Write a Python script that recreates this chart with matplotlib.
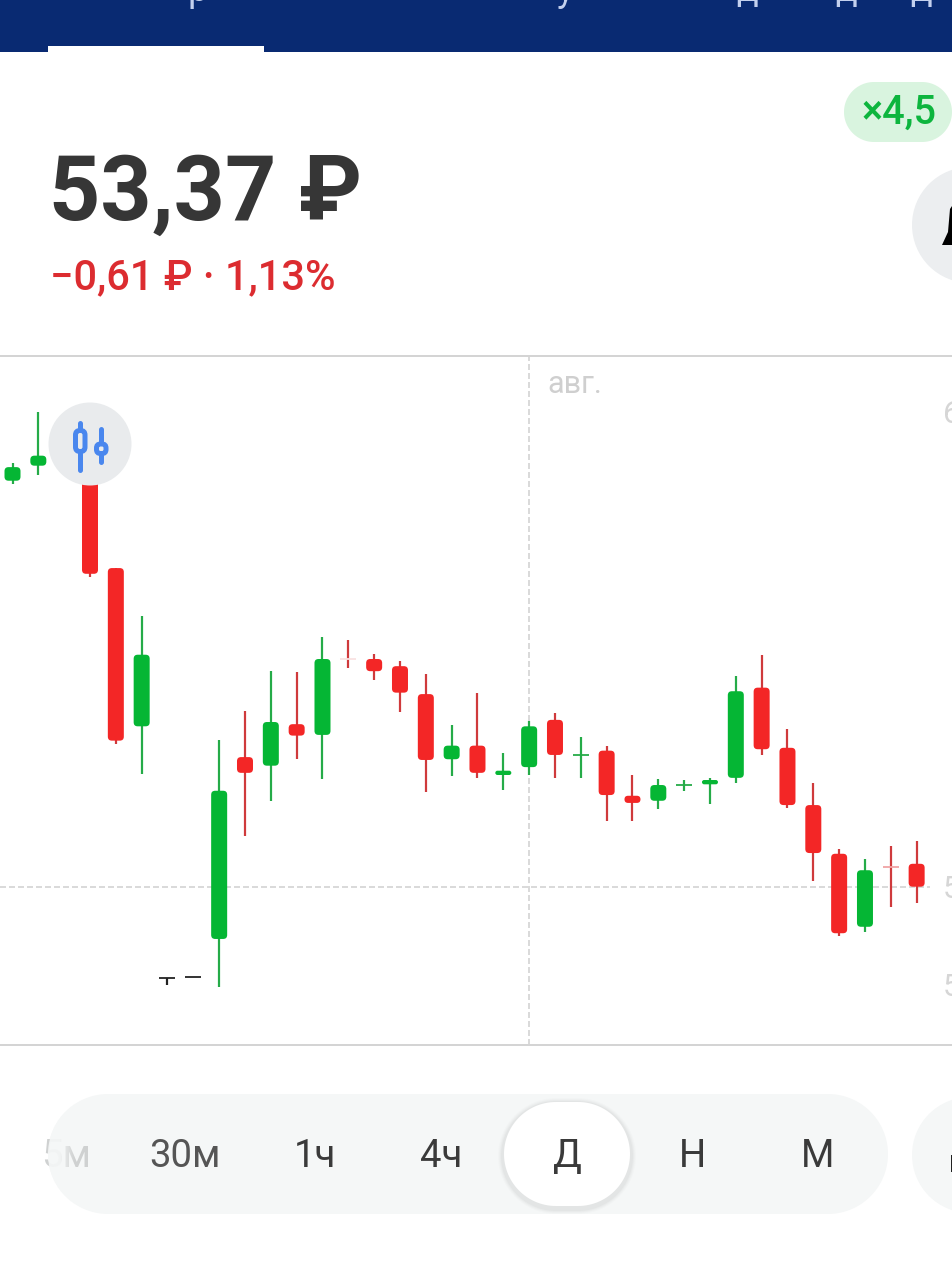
import numpy as np
import matplotlib
matplotlib.use("Agg")
import matplotlib.pyplot as plt
from matplotlib.patches import FancyBboxPatch, Circle, Rectangle, Polygon

plt.rcParams['font.family'] = ['Roboto', 'DejaVu Sans']

# ---- data -----------------------------------------------------------------
session = [0, 1, 3, 4, 5, 6, 7, 8, 9, 10, 11, 12, 13, 14, 15, 16, 17, 18, 19, 20, 21, 22, 23, 24, 25, 26, 27, 28, 29, 30, 31, 32, 33, 34, 35]
opens = [59.04, 59.25, 59.61, 57.82, 55.61, 52.10, 52.11, 52.64, 55.18, 55.06, 55.64, 55.49, 56.55, 56.55, 56.45, 56.06, 55.15, 55.34, 54.93, 55.04, 55.70, 55.21, 55.27, 54.64, 54.57, 54.79, 54.80, 54.89, 56.15, 55.31, 54.51, 53.83, 52.81, 53.65, 53.69]
highs = [59.29, 60.00, 59.75, 57.82, 57.15, 52.10, 52.11, 55.42, 55.82, 56.38, 56.37, 56.86, 56.82, 56.62, 56.52, 56.34, 55.63, 56.08, 55.24, 55.68, 55.80, 55.46, 55.34, 54.93, 54.87, 54.86, 54.89, 56.31, 56.61, 55.57, 54.82, 53.90, 53.76, 53.94, 54.01]
lows = [58.99, 59.12, 57.70, 55.36, 54.94, 52.00, 52.11, 51.97, 54.08, 54.57, 55.15, 54.87, 56.43, 56.26, 55.81, 54.69, 54.92, 54.89, 54.72, 54.93, 54.89, 54.89, 54.29, 54.29, 54.46, 54.71, 54.53, 54.82, 55.21, 54.47, 53.45, 52.68, 52.74, 53.09, 53.14]
closes = [59.23, 59.39, 57.74, 55.41, 56.61, 52.10, 52.11, 54.71, 54.96, 55.67, 55.48, 56.55, 56.55, 56.38, 56.08, 55.14, 55.34, 54.96, 54.99, 55.61, 55.21, 55.21, 54.65, 54.54, 54.79, 54.79, 54.86, 56.10, 55.29, 54.51, 53.84, 52.72, 53.60, 53.65, 53.37]
kinds = list("ggrrgkkgrgrgrrrrgrggrgrrgggg" "rrrrgrr")
price_ticks = [60, 53.37, 52]
price_tick_labels = ["60", "53", "52"]
last_price = 53.37
month_session = 20
month_label = "авг."
timeframes = ["5м", "30м", "1ч", "4ч", "Д", "Н", "М"]
timeframe_x = [66, 185, 315, 441, 567, 692, 818]
timeframe_colors = ["#cfd1d1", "#555555", "#3a3a3a", "#3a3a3a", "#3a3a3a", "#3a3a3a", "#3a3a3a"]

# ---- style ----------------------------------------------------------------
RED, GREEN = "#f32626", "#05b634"
WICK = {"r": "#cf3a3c", "g": "#25ab48", "k": "#222222"}
BODY = {"r": RED, "g": GREEN, "k": "#222222"}
PALE_CROSS = {13: "#f9e2e2", 34: "#f0a3a4"}
W, H = 952, 1268
px = 72 / 100


def stadium(x0, y0, x1, y1, **kw):
    """Pill shape with true circular ends (pixel units of the ui axes)."""
    r = (y1 - y0) / 2
    t = np.linspace(-np.pi / 2, np.pi / 2, 60)
    right = np.c_[x1 - r + r * np.cos(t), (y0 + y1) / 2 + r * np.sin(t)]
    left = np.c_[x0 + r - r * np.cos(t), (y0 + y1) / 2 - r * np.sin(t)]
    return Polygon(np.vstack([right, left]), closed=True, ec="none", **kw)


fig = plt.figure(figsize=(W / 100, H / 100), dpi=100, facecolor="white")

# ---- price chart ----------------------------------------------------------
ax = fig.add_axes([0, (H - 1045) / H, 1, (1045 - 356) / H])
ax.set_xlim(-0.484, 36.369)
ax.set_ylim(51.159, 60.782)
ax.set_xticks([])
ax.set_yticks([])
for s in ("left", "right"):
    ax.spines[s].set_visible(False)
for s in ("top", "bottom"):
    ax.spines[s].set_color("#d4d4d4")
    ax.spines[s].set_linewidth(2 * px)

dash = (0, (4, 2))
ax.plot([-0.484, 35.5], [last_price, last_price], color="#cfcfcf", lw=1.5 * px, ls=dash, zorder=1)
ax.axvline(month_session, color="#cfcfcf", lw=1.5 * px, ls=dash, zorder=1)

unit_x, unit_y = 25.83, 71.6
body_w = 16 / unit_x
aspect = unit_x / unit_y
for k, o, h, l, c, kind in zip(session, opens, highs, lows, closes, kinds):
    ax.plot([k, k], [l, h], color=WICK[kind], lw=2.2 * px, solid_capstyle="butt", zorder=2)
    if o == c:
        ax.plot([k - body_w / 2, k + body_w / 2], [o, o], lw=1.8 * px, zorder=3,
                color=PALE_CROSS.get(k, WICK[kind]), solid_capstyle="butt")
    else:
        b, t = min(o, c), max(o, c)
        hpx = (t - b) * unit_y
        r = min(4.0, hpx / 2) / unit_x
        ax.add_patch(FancyBboxPatch((k - body_w / 2, b), body_w, t - b,
                                    boxstyle=f"round,pad=0,rounding_size={r}",
                                    mutation_aspect=aspect, fc=BODY[kind], ec="none", zorder=3))

for p, lab in zip(price_ticks, price_tick_labels):
    ax.annotate(lab, (943 / W, p), xycoords=ax.get_yaxis_transform(), xytext=(0, -3 * px),
                textcoords="offset points", color="#d6d6d6", fontsize=22, va="center", ha="left", zorder=4)
ax.annotate(month_label, (month_session, 60.782), xytext=(18 * px, -28 * px),
            textcoords="offset points", color="#cfcfcf", fontsize=22, va="center", ha="left")

# ---- surrounding screen, in pixel units -----------------------------------
ui = fig.add_axes([0, 0, 1, 1], zorder=5)
ui.set_xlim(0, W)
ui.set_ylim(H, 0)
ui.axis("off")
ui.patch.set_alpha(0)

# header
ui.add_patch(Rectangle((0, 0), W, 52, fc="#092a72", ec="none"))
ui.add_patch(Rectangle((48, 46), 216, 6, fc="white", ec="none"))
for x, ch in [(198, "р"), (565, "у"), (747, "д"), (846, "д"), (921, "д")]:
    ui.text(x, 1, ch, color="#c3d0ee", fontsize=26, ha="center", va="baseline", clip_on=True)

# price
ui.text(49, 220, "53,37 ₽", color="#363636", fontsize=64.5, fontweight="bold", ha="left", va="baseline")
ui.text(50, 289, "−0,61 ₽ · 1,13%", color="#dc2c30", fontsize=30, fontweight="medium", ha="left", va="baseline")

# leverage pill
ui.add_patch(stadium(844, 82, 952, 142, fc="#d9f4df"))
ui.text(899, 124, "×4,5", color="#0db53e", fontsize=28.5, fontweight="medium", ha="center", va="baseline")

# bell button
ui.add_patch(Circle((970, 225), 58, fc="#eceef0", ec="none"))
ui.add_patch(Polygon([(952, 206), (950, 209), (948, 232), (942, 245), (952, 245)], fc="black", ec="none"))

# chart type button
ui.add_patch(Circle((90, 444), 41.5, fc="#e9ebed", ec="none"))
BLUE = "#4a87ee"
ui.plot([80, 80], [423, 470], color=BLUE, lw=5 * px, solid_capstyle="round", zorder=2)
ui.add_patch(FancyBboxPatch((75.5, 430.5), 9.5, 21, boxstyle="round,pad=0,rounding_size=4.5",
                            fc="#e9ebed", ec=BLUE, lw=5 * px, zorder=3))
ui.plot([101, 101], [429, 462], color=BLUE, lw=5 * px, solid_capstyle="round", zorder=2)
ui.add_patch(FancyBboxPatch((96.5, 444), 9.5, 9.5, boxstyle="round,pad=0,rounding_size=4",
                            fc="#e9ebed", ec=BLUE, lw=5 * px, zorder=3))

# timeframe selector
PILL = "#f5f7f7"
pill = stadium(48, 1094, 888, 1214, fc=PILL)
ui.add_patch(pill)
for i, alpha in enumerate((0.012, 0.015, 0.02, 0.025)):
    g = 6 - i
    ui.add_patch(stadium(504 - g, 1104 - g, 630 + g, 1208 + g, fc="black", alpha=alpha))
ui.add_patch(stadium(504, 1102, 630, 1206, fc="white"))
for x, t, col in zip(timeframe_x, timeframes, timeframe_colors):
    label = ui.text(x, 1167, t, color=col, fontsize=27.5, ha="center", va="baseline")
    label.set_clip_path(pill)
fade = np.ones((1, 40, 4))
fade[..., :3] = matplotlib.colors.to_rgb(PILL)
fade[..., 3] = np.clip((74 - np.arange(40) - 40) / 16, 0, 0.92)
im = ui.imshow(fade, extent=(40, 80, 1214, 1094), aspect="auto", zorder=6)
ui.set_xlim(0, W)
ui.set_ylim(H, 0)
im.set_clip_path(pill)

# settings button
ui.add_patch(Circle((970, 1155), 58, fc=PILL, ec="none"))
ui.add_patch(Rectangle((950.5, 1155), 1.5, 17, fc="#222222", ec="none"))

fig.savefig("out.png", dpi=100)
